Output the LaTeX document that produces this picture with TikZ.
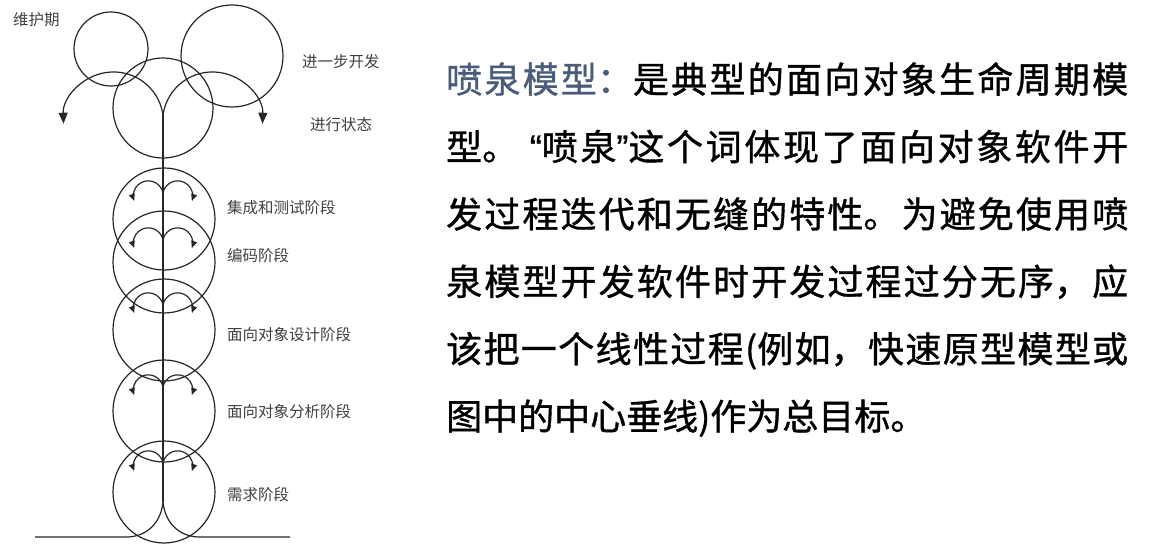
\documentclass[tikz,border=0pt]{standalone}
\usepackage{fontspec}
\setmainfont{Noto Sans CJK SC}
\newfontfamily\descfont[FakeBold=1]{Noto Sans CJK SC}
\newfontfamily\quotefont[FakeBold=1]{Liberation Sans}
\usetikzlibrary{arrows.meta}
\XeTeXlinebreaklocale "zh"
\XeTeXlinebreakskip=0pt plus 3pt
\definecolor{titleblue}{RGB}{74,92,122}
\newcommand{\openq}{{\quotefont “}}
\newcommand{\closeq}{{\quotefont ”}}
\tikzset{
  phase/.style={anchor=west, inner sep=0pt, font=\fontsize{15.5}{18}\selectfont, text=black!75},
  loopline/.style={line width=1.2pt, draw=black!85},
  smallarrow/.style={loopline, -{Triangle[length=7pt,width=6pt]}},
  bigarrow/.style={loopline, -{Triangle[length=11pt,width=9pt]}},
}
\begin{document}
\begin{tikzpicture}[x=1pt,y=1pt]
  \useasboundingbox (0,0) rectangle (1154,544);
  %% fountain top
  \coordinate (top) at (163,429);
  \coordinate (root) at (163,42);
  \draw[loopline] (111,495) circle (37pt);
  \draw[loopline] (232,488) circle (51pt);
  \draw[loopline] (163,436) circle (50pt);
  \draw[bigarrow] (top) arc[start angle=8, end angle=182, radius=50pt];
  \draw[bigarrow] (top) arc[start angle=172, end angle=-2, radius=50pt];
  %% phases
  \foreach \cy/\fy in {325/351, 282/304, 214/239, 133/157, 52/81} {
    \draw[loopline] (164,\cy) circle (51pt);
    \draw[smallarrow] (163,\fy) arc[start angle=11, end angle=200, radius=15pt];
    \draw[smallarrow] (163,\fy) arc[start angle=169, end angle=-20, radius=15pt];
  }
  %% centre line and ground
  \draw[loopline] (top) -- (root);
  \draw[loopline] (35,7) -- (128,7) .. controls (148,8) and (161,22) .. (root)
    .. controls (165,22) and (178,8) .. (198,7) -- (290,7);
  %% labels
  \node[phase] (maint) at (13,524) {维护期};
  \node[phase] (further) at (302,482) {进一步开发};
  \node[phase] (running) at (310,419) {进行状态};
  \node[phase] (test) at (227,336) {集成和测试阶段};
  \node[phase] (coding) at (227,288) {编码阶段};
  \node[phase] (design) at (227,209) {面向对象设计阶段};
  \node[phase] (analysis) at (227,132) {面向对象分析阶段};
  \node[phase] (require) at (227,49) {需求阶段};
  %% description
  \node[anchor=north west, inner sep=0pt, text width=682pt, align=justify,
    font=\descfont\fontsize{36}{67.4}\selectfont] (desc) at (446,482)
    {\textcolor{titleblue}{喷泉模型：}是典型的面向对象生命周期模\linebreak
    型。 \openq 喷泉\closeq 这个词体现了面向对象软件开\linebreak
    发过程迭代和无缝的特性。为避免使用喷\linebreak
    泉模型开发软件时开发过程过分无序，应\linebreak
    该把一个线性过程(例如，快速原型模型或\linebreak
    图中的中心垂线)作为总目标。};
\end{tikzpicture}
\end{document}
